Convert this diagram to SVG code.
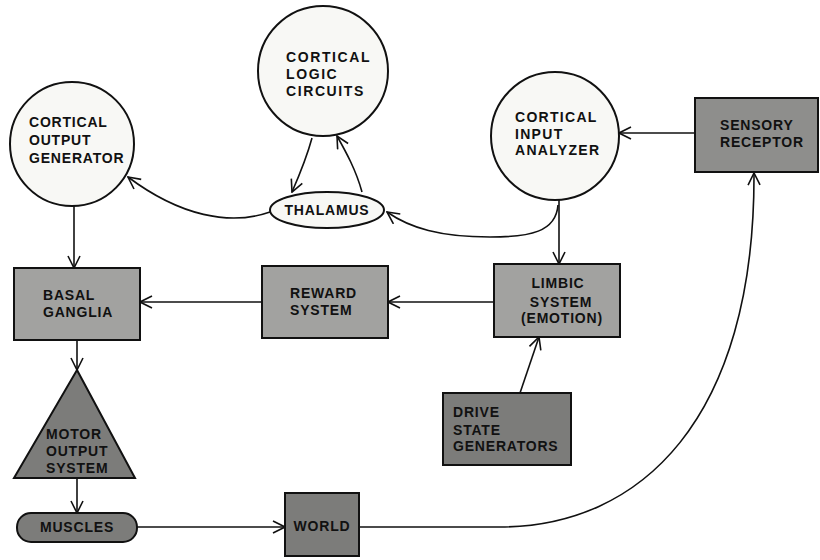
<svg xmlns="http://www.w3.org/2000/svg" width="820" height="560" viewBox="0 0 820 560">
<defs>
<marker id="arr" markerWidth="14" markerHeight="14" viewBox="0 0 14 14" refX="13" refY="7" orient="auto" markerUnits="userSpaceOnUse">
<path d="M1,1 L13,7 L1,13" fill="none" stroke="#111" stroke-width="1.6"/>
</marker>
</defs>
<style>
.lbl{font-family:"Liberation Sans",Arial,sans-serif;font-size:14px;font-weight:bold;fill:#111;letter-spacing:0.8px}
.circ{fill:#f8f8f5;stroke:#111;stroke-width:2}
.box{fill:#a2a2a0;stroke:#111;stroke-width:2}
.dark{fill:#7c7c7a;stroke:#111;stroke-width:2}
.con{fill:none;stroke:#111;stroke-width:1.6}
</style>
<rect width="820" height="560" fill="#ffffff"/>
<g id="connectors">
<path class="con" d="M74,205 L74,268" marker-end="url(#arr)"/>
<path class="con" d="M270,212 C230,226 180,216 128,177" marker-end="url(#arr)"/>
<path class="con" d="M312,138 C306,160 299,176 292,192" marker-end="url(#arr)"/>
<path class="con" d="M362,192 C356,170 346,152 337,136" marker-end="url(#arr)"/>
<path class="con" d="M558,205 C556,232 530,237 490,237 C440,237 410,228 387,212" marker-end="url(#arr)"/>
<path class="con" d="M695,133 L619,133" marker-end="url(#arr)"/>
<path class="con" d="M559,200 L559,264" marker-end="url(#arr)"/>
<path class="con" d="M494,302 L388,302" marker-end="url(#arr)"/>
<path class="con" d="M262,302 L140,302" marker-end="url(#arr)"/>
<path class="con" d="M520,393 L539,337" marker-end="url(#arr)"/>
<path class="con" d="M77,340 L77,370" marker-end="url(#arr)"/>
<path class="con" d="M77,478 L77,513" marker-end="url(#arr)"/>
<path class="con" d="M137,527 L285,527" marker-end="url(#arr)"/>
<path class="con" d="M359,527 L500,527 C640,527 755,420 754,173" marker-end="url(#arr)"/>
</g>
<g id="cortical-output-generator">
<circle class="circ" cx="72" cy="144" r="62"/>
<text class="lbl" x="29" y="127">CORTICAL</text>
<text class="lbl" x="29" y="145">OUTPUT</text>
<text class="lbl" x="29" y="163">GENERATOR</text>
</g>
<g id="cortical-logic-circuits">
<circle class="circ" cx="323" cy="71" r="65"/>
<text class="lbl" x="286" y="62" style="letter-spacing:1.6px">CORTICAL</text>
<text class="lbl" x="286" y="79" style="letter-spacing:1.6px">LOGIC</text>
<text class="lbl" x="286" y="96" style="letter-spacing:1.6px">CIRCUITS</text>
</g>
<g id="thalamus">
<ellipse class="circ" cx="327" cy="210" rx="57" ry="18"/>
<text class="lbl" x="327" y="215" text-anchor="middle">THALAMUS</text>
</g>
<g id="cortical-input-analyzer">
<circle class="circ" cx="555" cy="136" r="64"/>
<text class="lbl" x="515" y="122" style="letter-spacing:1.3px">CORTICAL</text>
<text class="lbl" x="515" y="139" style="letter-spacing:1.3px">INPUT</text>
<text class="lbl" x="515" y="155" style="letter-spacing:1.3px">ANALYZER</text>
</g>
<g id="sensory-receptor">
<rect x="695" y="98" width="123" height="74" fill="#8e8e8c" stroke="#111" stroke-width="2"/>
<text class="lbl" x="720" y="130">SENSORY</text>
<text class="lbl" x="720" y="147">RECEPTOR</text>
</g>
<g id="basal-ganglia">
<rect class="box" x="14" y="268" width="126" height="72"/>
<text class="lbl" x="43" y="300">BASAL</text>
<text class="lbl" x="43" y="317">GANGLIA</text>
</g>
<g id="reward-system">
<rect class="box" x="262" y="266" width="126" height="72"/>
<text class="lbl" x="290" y="298">REWARD</text>
<text class="lbl" x="290" y="315">SYSTEM</text>
</g>
<g id="limbic-system">
<rect class="box" x="494" y="264" width="126" height="73"/>
<text class="lbl" x="558" y="288" text-anchor="middle">LIMBIC</text>
<text class="lbl" x="561" y="307" text-anchor="middle">SYSTEM</text>
<text class="lbl" x="562" y="323" text-anchor="middle">(EMOTION)</text>
</g>
<g id="drive-state-generators">
<rect class="dark" x="443" y="393" width="128" height="72"/>
<text class="lbl" x="453" y="417">DRIVE</text>
<text class="lbl" x="453" y="435">STATE</text>
<text class="lbl" x="453" y="451">GENERATORS</text>
</g>
<g id="motor-output-system">
<polygon class="dark" points="77,370 135,478 14,478"/>
<text class="lbl" x="46" y="439">MOTOR</text>
<text class="lbl" x="46" y="456">OUTPUT</text>
<text class="lbl" x="46" y="473">SYSTEM</text>
</g>
<g id="muscles">
<rect class="dark" x="17" y="513" width="120" height="29" rx="14" ry="14"/>
<text class="lbl" x="77" y="532" text-anchor="middle">MUSCLES</text>
</g>
<g id="world">
<rect class="dark" x="285" y="493" width="74" height="63"/>
<text class="lbl" x="322" y="531" text-anchor="middle">WORLD</text>
</g>
</svg>
